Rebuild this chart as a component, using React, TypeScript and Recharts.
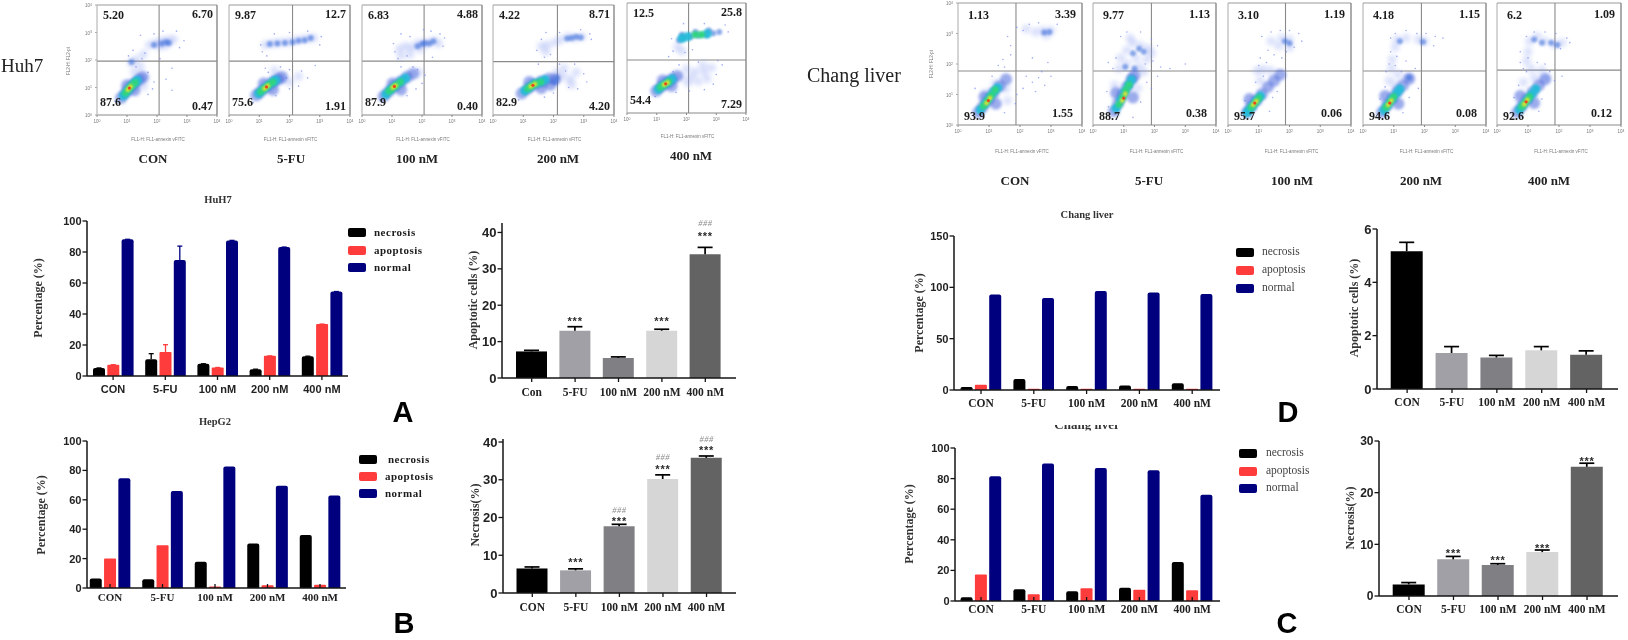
import React from 'react';
import { ComposedChart, Bar, Line, Cell, ErrorBar, XAxis, YAxis, ScatterChart, Scatter, ReferenceLine } from 'recharts';

type Pt = [number, number];
interface Cloud { sparse: Pt[]; soft: Pt[]; mid: Pt[]; blue: Pt[]; cyan: Pt[]; green: Pt[]; yellow: Pt[]; red: Pt[] }

// bar chart values
const doses = ['CON', '5-FU', '100 nM', '200 nM', '400 nM'];
const dosesCon = ['Con', '5-FU', '100 nM', '200 nM', '400 nM'];

const huhNecrosis = [5.2, 10.8, 7.9, 4.4, 12.8];
const huhApoptosis = [7.3, 15.5, 5.5, 13, 33.5];
const huhNormal = [88.2, 74.8, 87.5, 83.2, 54.5];
const huhNecrosisErr = [0, 3.6, 0, 0, 0];
const huhApoptosisErr = [0, 4.7, 0, 0, 0];
const huhNormalErr = [0, 9, 0, 0, 0];

const hepNecrosis = [6.5, 6, 17.8, 30.3, 36];
const hepApoptosis = [20, 29, 1, 1.8, 2.2];
const hepNormal = [74.7, 66, 82.6, 69.5, 63];

const changDNecrosis = [3, 10.7, 3.9, 4.5, 6.5];
const changDApoptosis = [5.2, 1.1, 1.2, 1.15, 1.3];
const changDNormal = [93, 89.6, 96.4, 95, 93.5];

const changCNecrosis = [2.4, 7.6, 6.3, 8.7, 25.5];
const changCApoptosis = [17.4, 4.4, 8.3, 7.4, 7];
const changCNormal = [81.5, 89.8, 87, 85.4, 69.5];

const apoHuh = [7.3, 13, 5.5, 13, 34];
const apoHuhErr = [0.3, 1.1, 0.3, 0.4, 1.9];
const apoHuhStars = [null, 16.2, null, 16.2, 39.7];
const apoHuhHash = [null, null, null, null, 42.6];

const necHep = [6.5, 6, 17.7, 30.2, 35.8];
const necHepErr = [0.4, 0.4, 0.5, 1.1, 0.5];
const necHepStars = [null, 8.8, 19.6, 33.4, 38.4];
const necHepHash = [null, null, 22, 36, 40.8];

const apoChang = [5.17, 1.35, 1.18, 1.45, 1.28];
const apoChangErr = [0.33, 0.24, 0.08, 0.14, 0.15];

const necChang = [2.25, 7.1, 6, 8.5, 25];
const necChangErr = [0.35, 0.56, 0.25, 0.4, 0.7];
const necChangStars = [null, 8.7, 7.3, 9.66, 26.6];

const greys = ['#000000', '#a0a0a6', '#808084', '#d6d6d6', '#636363'];

// quadrant percentages, [upper left, upper right, lower left, lower right]
const huhQuads = [
  ['5.20', '6.70', '87.6', '0.47'],
  ['9.87', '12.7', '75.6', '1.91'],
  ['6.83', '4.88', '87.9', '0.40'],
  ['4.22', '8.71', '82.9', '4.20'],
  ['12.5', '25.8', '54.4', '7.29'],
];
const changQuads = [
  ['1.13', '3.39', '93.9', '1.55'],
  ['9.77', '1.13', '88.7', '0.38'],
  ['3.10', '1.19', '95.7', '0.06'],
  ['4.18', '1.15', '94.6', '0.08'],
  ['6.2', '1.09', '92.6', '0.12'],
];
const flowNames = ['CON', '5-FU', '100 nM', '200 nM', '400 nM'];

// events, in log10 decades
const huhCon: Cloud = {
  sparse: [[1.45, 2.9], [1.2, 2.35], [1.05, 2.15], [1.5, 2.05], [1.3, 1.75], [1.7, 1.55], [1.9, 1.2], [2.3, 1.3], [2.5, .9], [1.85, .95], [2.75, 2.45], [2.9, 2.7], [2.65, 3.05], [2.2, 3.05], [1.9, 2.95], [1.6, 2.25], [2.5, 1.7], [.6, .5], [1.7, .75], [2.1, 2.05]],
  soft: [[1.75, 2.55], [1.95, 2.6], [2.1, 2.65], [2.25, 2.7], [2.4, 2.7], [2.55, 2.75], [2.1, 2.5], [2.3, 2.55], [1.55, 2.2], [1.3, 2.02], [1.15, 1.9], [1.25, 1.55], [1.45, 1.75], [1.6, 1.35], [1.55, 1.05]],
  mid: [[2.15, 2.6], [2.3, 2.65], [2.4, 2.62], [1.9, 2.55], [1.15, 1.93]],
  blue: [[.8, .62], [.95, .8], [1.1, .98], [1.25, 1.15], [1.4, 1.28], [1.52, 1.38], [1, 1.08], [1.25, .9]],
  cyan: [[.88, .7], [1, .85], [1.12, 1.02], [1.25, 1.16], [1.35, 1.26]],
  green: [[.95, .8], [1.06, .95], [1.18, 1.08], [1.27, 1.18]],
  yellow: [[1.03, .92], [1.12, 1.03]],
  red: [[1.08, .98]],
};
const huh5fu: Cloud = {
  sparse: [[1.1, 2.3], [1.25, 2.15], [1.5, 2.95], [2, 3], [2.6, 3.05], [3, 2.55], [3.05, 2.85], [1.2, 1.7], [1.7, 1.75], [2, 1.65], [2.4, 1.6], [2.6, 1.35], [2.3, 1.05], [2, .95], [1.9, 1.35], [1.55, .7], [1.3, 1.55], [.8, .45], [2.85, 1.8], [1.05, 2.55]],
  soft: [[1.2, 2.55], [1.4, 2.6], [1.6, 2.62], [1.8, 2.65], [2, 2.65], [2.2, 2.72], [2.4, 2.75], [2.6, 2.78], [2.8, 2.8], [1.5, 1.3], [1.75, 1.3], [2, 1.2], [2.3, 1.4], [1.5, 1.62]],
  mid: [[1.35, 2.58], [1.6, 2.6], [1.85, 2.62], [2.1, 2.65], [2.3, 2.7], [2.5, 2.72], [2.7, 2.8]],
  blue: [[.9, .72], [1.05, .85], [1.25, 1.02], [1.45, 1.18], [1.62, 1.3], [1.75, 1.38], [1.15, 1.15], [1.45, .92]],
  cyan: [[.98, .78], [1.12, .92], [1.28, 1.06], [1.45, 1.2], [1.55, 1.27]],
  green: [[1.05, .85], [1.18, .98], [1.32, 1.1], [1.45, 1.2]],
  yellow: [[1.18, .96], [1.28, 1.06]],
  red: [[1.24, 1.02]],
};
const huh100: Cloud = {
  sparse: [[1.05, 2.6], [1.1, 2.3], [1.3, 2.95], [1.6, 2.85], [1.5, 2.15], [2.3, 3.05], [2.7, 2.5], [2.75, 2.8], [2.6, 2.95], [1.3, 1.75], [1.7, 1.75], [1.85, 1.65], [2.1, 1.45], [2, 1.15], [1.8, .95], [.6, .55], [1.5, .7], [2.35, 2.1], [1.2, 2.05], [2.05, 3.1]],
  soft: [[1.25, 2.4], [1.45, 2.5], [1.65, 2.45], [1.85, 2.6], [2.05, 2.6], [2.2, 2.62], [2.4, 2.7], [2.55, 2.6], [1.3, 2.15], [1.6, 2.2], [1.95, 2.4], [1.9, 1.55]],
  mid: [[2, 2.58], [2.1, 2.62], [2.25, 2.6], [2.38, 2.68], [1.85, 2.5]],
  blue: [[.72, .68], [.9, .86], [1.1, 1.05], [1.3, 1.22], [1.5, 1.38], [1.7, 1.5], [1.02, 1.15], [1.3, .92]],
  cyan: [[.8, .75], [.95, .92], [1.12, 1.06], [1.3, 1.22], [1.45, 1.34]],
  green: [[.9, .87], [1.02, .98], [1.14, 1.08], [1.28, 1.2]],
  yellow: [[1.03, 1], [1.12, 1.07]],
  red: [[1.08, 1.04]],
};
const huh200: Cloud = {
  sparse: [[1.45, 2.35], [1.6, 2.75], [1.75, 3], [2.2, 3], [2.9, 3.1], [3.25, 2.75], [3.2, 2.95], [1.5, 1.85], [2.2, 1.85], [2.7, 1.85], [3, 1.5], [3.1, 1.2], [2.5, 1], [2.8, .95], [2, .8], [1.7, .65], [.85, .55], [2.4, 1.6], [1.9, 2.2], [1.7, 2.1]],
  soft: [[1.6, 2.5], [1.8, 2.55], [2.05, 2.65], [2.25, 2.75], [2.5, 2.85], [2.7, 2.8], [2.95, 2.85], [1.75, 2.3], [2.1, 1.55], [2.3, 1.4], [2.55, 1.3], [2.75, 1.55], [2.6, 1.1], [2.35, 1.7]],
  mid: [[2.45, 2.78], [2.6, 2.8], [2.75, 2.85], [2.9, 2.82], [2.1, 1.35], [2.05, 1.2]],
  blue: [[.95, .78], [1.15, .95], [1.35, 1.1], [1.6, 1.22], [1.85, 1.32], [2.05, 1.3], [1.2, 1.2], [1.6, .98], [1.9, 1.1]],
  cyan: [[1.05, .88], [1.2, 1], [1.35, 1.12], [1.55, 1.2], [1.72, 1.28]],
  green: [[1.15, .96], [1.28, 1.06], [1.42, 1.15], [1.58, 1.2]],
  yellow: [[1.25, 1.04], [1.38, 1.12]],
  red: [[1.32, 1.08]],
};
const huh400: Cloud = {
  sparse: [[1.55, 2.25], [1.4, 2.05], [1.5, 2.7], [1.9, 3.25], [2.6, 3.25], [3.3, 3.2], [3.4, 2.95], [1.75, 1.75], [2.4, 1.85], [3.05, 1.9], [3, 1.4], [2.9, 1.05], [2.1, .8], [2.6, .85], [1.65, .75], [.95, .6], [3.2, 1.75], [1.95, 2.2], [2.2, 2.3], [1.55, 1.5]],
  soft: [[2, 1.6], [2.3, 1.5], [2.6, 1.5], [2.85, 1.65], [2.7, 1.25], [2.4, 1.15], [2.05, 1.1], [1.8, 1.3], [1.7, 2.4], [1.85, 2.25], [2.15, 1.3], [2.55, 1.75]],
  mid: [[1.75, 2.65], [1.9, 2.72], [2.15, 2.78], [2.4, 2.82], [2.65, 2.85], [2.9, 2.9], [3.1, 2.95], [1.85, 2.85], [2.3, 2.95], [2.75, 3]],
  blue: [[.98, .8], [1.15, .95], [1.32, 1.08], [1.5, 1.22], [1.68, 1.35], [1.5, .98], [1.2, 1.18]],
  cyan: [[1.05, .86], [1.2, 1], [1.38, 1.12], [1.52, 1.24], [1.85, 2.72], [2.05, 2.78], [2.7, 2.88]],
  green: [[1.12, .94], [1.25, 1.03], [1.4, 1.14], [2.3, 2.85], [2.5, 2.85]],
  yellow: [[1.25, 1.03], [1.36, 1.1]],
  red: [[1.3, 1.06]],
};
const changCon: Cloud = {
  sparse: [[1.6, 2.9], [1.7, 2.3], [1.45, 2.15], [1.5, 1.9], [1.7, 2.6], [1.9, 3.2], [2.1, 3.1], [2.3, 3.3], [2.6, 3.35], [3.2, 3.3], [2.2, 1.6], [2.4, 1.4], [2.6, 1.55], [2.8, 1.3], [2.1, 1.2], [3, 1.6], [2.5, 1.1], [1.9, 1], [2.7, 1.75], [.55, 1.2], [1.1, 1.6], [1.3, 1.95], [1.85, .7], [1.5, .4], [2.4, 2.2], [2.9, 2.05]],
  soft: [[2.5, 3.05], [2.75, 3.1], [3, 3.1], [2.2, 3.15], [2.85, 2.95], [1.55, 1.2], [.9, 1.05], [1.2, 1.35], [1.6, .8]],
  mid: [[2.78, 3.03], [2.95, 3.05]],
  blue: [[.65, .42], [.8, .6], [.98, .82], [1.15, 1.05], [1.35, 1.28], [1.55, 1.5], [.85, .92], [1.22, .7]],
  cyan: [[.72, .5], [.88, .7], [1.02, .9], [1.15, 1.08], [1.28, 1.22]],
  green: [[.82, .62], [.95, .8], [1.08, .98], [1.2, 1.15]],
  yellow: [[.92, .72], [1.03, .88]],
  red: [[.98, .8]],
};
const chang5fu: Cloud = {
  sparse: [[.9, 2.9], [.75, 2.2], [.65, 1.85], [.5, 2.05], [1.1, 3.05], [1.55, 3.05], [1.9, 2.8], [2.1, 2.6], [1.95, 2.1], [2.2, 1.9], [1.75, 1.4], [1.9, 1.2], [2.1, 1.6], [1.55, .75], [.45, 1.1], [.5, .6], [2.5, 1.85], [3, 2], [1.3, .25], [1.7, 2]],
  soft: [[.9, 2.2], [1.1, 2.45], [1.3, 2.7], [1.55, 2.6], [1.8, 2.5], [1.75, 2.15], [1.4, 2.2], [1.1, 2], [1.5, 1.9], [.85, 1.85], [1.2, 2.85], [1.9, 2.35], [1.65, 1.75], [1.45, 1.2], [.7, 1.3]],
  mid: [[1.5, 2.5], [1.3, 2.35], [1.65, 2.4], [1.05, 1.9], [1.35, 1.85]],
  blue: [[.68, .45], [.82, .72], [.95, .98], [1.1, 1.25], [1.25, 1.5], [1.35, 1.62], [.75, 1.05], [1.3, .9]],
  cyan: [[.75, .55], [.9, .82], [1.03, 1.08], [1.15, 1.3], [1.25, 1.48]],
  green: [[.85, .68], [.97, .92], [1.07, 1.15], [1.17, 1.32]],
  yellow: [[.95, .8], [1.05, 1.02]],
  red: [[1, .88]],
};
const chang100: Cloud = {
  sparse: [[1.1, 2.9], [1.4, 3.05], [1.7, 3.1], [2, 3.1], [2.3, 3], [2.4, 2.75], [2.15, 2.55], [1.3, 2.45], [1.05, 2.2], [1, 1.95], [1.25, 2.05], [1.5, 2.3], [1.15, 1.6], [.9, 1.4], [1.45, .9], [1.6, 1.1], [1.9, 2.4], [.55, .8], [1.35, .45], [1.75, 2.2]],
  soft: [[1.4, 2.75], [1.75, 2.85], [2, 2.8], [2, 2.55], [1.65, 2.6], [.95, 1.78], [1.15, 1.82], [1.4, 1.78], [1.05, 1.45]],
  mid: [[1.85, 2.75], [2, 2.68]],
  blue: [[.62, .42], [.75, .6], [.92, .8], [1.1, 1.02], [1.3, 1.25], [1.5, 1.45], [1.7, 1.65], [.7, .85]],
  cyan: [[.68, .48], [.8, .62], [.93, .8], [1.06, .95], [.62, .4]],
  green: [[.75, .58], [.88, .72], [1, .88]],
  yellow: [[.82, .66], [.92, .78]],
  red: [[.87, .72]],
};
const chang200: Cloud = {
  sparse: [[.9, 2.85], [1.05, 3], [1.4, 3.1], [1.75, 3], [2.05, 3], [2.35, 2.9], [2.6, 2.85], [2.3, 2.6], [.9, 2.4], [.85, 2], [.75, 1.75], [1.05, 1.95], [1.4, 2.1], [1.25, 1.75], [1.7, 1.85], [.72, 1.25], [.55, .85], [1.5, .9], [1.3, .4], [1.8, 1.2], [1.1, 2.25]],
  soft: [[1.1, 2.8], [1.4, 2.85], [1.8, 2.8], [2, 2.75], [1.05, 2.55], [.95, 2.15], [.92, 1.85], [1.15, 1.65], [1.5, 1.55], [.85, 1.45], [1.05, 1.3]],
  mid: [[1.2, 2.75], [1.95, 2.72], [1.5, 1.55]],
  blue: [[.62, .42], [.78, .65], [.95, .88], [1.12, 1.1], [1.3, 1.3], [1.5, 1.52], [.72, .95], [1.15, .7]],
  cyan: [[.68, .48], [.8, .65], [.95, .85], [1.1, 1.05], [1.2, 1.18]],
  green: [[.75, .58], [.88, .75], [1, .92]],
  yellow: [[.82, .66], [.92, .8]],
  red: [[.87, .72]],
};
const chang400: Cloud = {
  sparse: [[.75, 2.4], [.95, 2.9], [1.2, 3.05], [1.55, 3.05], [1.9, 3], [2.25, 2.85], [2.35, 2.7], [2.05, 2.5], [1, 2.2], [.75, 2.05], [.85, 1.85], [1.3, 2.05], [1.55, 2], [1.7, 1.75], [.7, 1.3], [.55, .9], [1.45, .85], [2.1, 1.6], [1.85, 1.45], [1.35, .45], [.95, 1.75]],
  soft: [[1.05, 2.75], [1.3, 2.9], [1.55, 2.75], [1.85, 2.65], [2.1, 2.7], [1, 2.4], [.95, 2.1], [1.1, 1.85], [1.45, 1.8], [1.2, 1.55], [.85, 1.4], [1.6, 1.55]],
  mid: [[1.2, 2.8], [1.45, 2.7], [1.75, 2.7], [1.95, 2.62]],
  blue: [[.65, .42], [.8, .62], [.97, .85], [1.15, 1.08], [1.35, 1.3], [1.55, 1.5], [.75, .95], [1.2, .72]],
  cyan: [[.72, .5], [.85, .66], [1, .85], [1.13, 1.02], [1.25, 1.18]],
  green: [[.8, .6], [.92, .75], [1.05, .92]],
  yellow: [[.88, .68], [.98, .82]],
  red: [[.94, .76]],
};

const huhClouds = [huhCon, huh5fu, huh100, huh200, huh400];
const changClouds = [changCon, chang5fu, chang100, chang200, chang400];

const huhVLines = [2.07, 2.1, 2.07, 2.13, 2.07];
const huhHLines = [1.96, 1.96, 1.96, 1.94, 1.93];
const changVLines = [1.87, 1.9, 1.87, 1.9, 1.87];
const changHLines = [1.77, 1.77, 1.77, 1.77, 1.8];

const SANS = '"Liberation Sans", Arial, sans-serif';
const SERIF = '"Liberation Serif", "Times New Roman", serif';
const INK = '#1c1c1c';

const LEVELS: { key: keyof Cloud; r: number; fill: string; op: number; blur: number }[] = [
  { key: 'soft', r: 4.5, fill: '#8ba0f2', op: 0.3, blur: 2 },
  { key: 'sparse', r: 0.8, fill: '#7f8ff0', op: 0.75, blur: 0 },
  { key: 'blue', r: 6, fill: '#4a68dc', op: 0.55, blur: 1.5 },
  { key: 'mid', r: 3, fill: '#3f72dc', op: 0.6, blur: 1.2 },
  { key: 'cyan', r: 4.6, fill: '#25bcd8', op: 0.95, blur: 1.2 },
  { key: 'green', r: 3.6, fill: '#2fd480', op: 1, blur: 1 },
  { key: 'yellow', r: 2.4, fill: '#dfe22e', op: 1, blur: 0.8 },
  { key: 'red', r: 1.6, fill: '#e84a20', op: 1, blur: 0.6 },
];

const Txt = ({ x, y, children, style, anchor = 'start', rotate = false }: any) => {
  const tx = anchor === 'middle' ? '-50%' : anchor === 'end' ? '-100%' : '0';
  return (
    <div style={{
      position: 'absolute', left: x, top: y, whiteSpace: 'nowrap', lineHeight: 1, color: INK,
      transform: rotate ? 'translate(-50%,-50%) rotate(-90deg)' : `translate(${tx},-50%)`, ...style,
    }}>{children}</div>
  );
};

const LogTick = ({ x, y, payload, vertical }: any) => (
  <text x={vertical ? x - 1 : x} y={vertical ? y + 2 : y + 4} fontSize={4.5} fill="#777" fontFamily={SANS} textAnchor={vertical ? 'end' : 'middle'}>
    10<tspan fontSize={3.5} dy={-1.5}>{payload.value}</tspan>
  </text>
);

const FlowPlot = ({ box, cloud, vline, hline, first }: any) => {
  const [L, T, R, B] = box;
  return (
    <div style={{ position: 'absolute', left: L - 18, top: T - 4 }}>
      <ScatterChart width={R - L + 24} height={B - T + 18} margin={{ left: 17, top: 4, right: 6, bottom: 13 }}>
        <XAxis type="number" dataKey="x" domain={[0, 4]} ticks={[0, 1, 2, 3, 4]} height={1} tick={<LogTick />} tickSize={2} stroke="#888" interval={0} />
        <YAxis type="number" dataKey="y" domain={[0, 4]} ticks={[0, 1, 2, 3, 4]} width={1} tick={first ? <LogTick vertical /> : false} tickSize={first ? 2 : 0} stroke="#aaa" interval={0} />
        <ReferenceLine y={4} stroke="#999" strokeWidth={1.2} />
        <ReferenceLine x={4} stroke="#888" strokeWidth={1.4} />
        <ReferenceLine x={vline} stroke="#8a8a8a" strokeWidth={1.1} />
        <ReferenceLine y={hline} stroke="#8a8a8a" strokeWidth={1.1} />
        {LEVELS.map((lv) => (
          <Scatter key={lv.key} data={cloud[lv.key].map(([x, y]: Pt) => ({ x, y }))} isAnimationActive={false}
            shape={(p: any) => <circle cx={p.cx} cy={p.cy} r={lv.r} fill={lv.fill} fillOpacity={lv.op} style={lv.blur ? { filter: `blur(${lv.blur}px)` } : undefined} />} />
        ))}
      </ScatterChart>
    </div>
  );
};

const Quads = ({ box, vals, off }: any) => {
  const [L, T, R, B] = box;
  const st = { fontFamily: SERIF, fontWeight: 700, fontSize: 12 };
  return (
    <>
      <Txt x={L + off[0]} y={T + off[1]} style={st}>{vals[0]}</Txt>
      <Txt x={R - off[2]} y={T + off[3]} style={st} anchor="end">{vals[1]}</Txt>
      <Txt x={L + off[4]} y={B - off[5]} style={st}>{vals[2]}</Txt>
      <Txt x={R - off[6]} y={B - off[7]} style={st} anchor="end">{vals[3]}</Txt>
    </>
  );
};

const Legend = ({ x, textX, ys, bold, textXs }: any) => {
  const items = [['necrosis', '#000000'], ['apoptosis', '#ff3c3c'], ['normal', '#00007f']];
  return (
    <>
      {items.map(([name, col], i) => (
        <React.Fragment key={name}>
          <div style={{ position: 'absolute', left: x, top: ys[i] - 4.5, width: 18, height: 9, background: col, borderRadius: 2 }} />
          <Txt x={textXs ? textXs[i] : textX} y={ys[i]} style={{ fontFamily: SERIF, fontSize: bold ? 11 : 11.5, fontWeight: bold ? 700 : 400, letterSpacing: bold ? 0.5 : 0, color: bold ? INK : '#444' }}>{name}</Txt>
        </React.Fragment>
      ))}
    </>
  );
};

const Marks = (text: string, style: any, dy: number) => (p: any) => {
  if (p.cy == null || p.value == null) return <g key={p.index} />;
  return <text key={p.index} x={p.cx} y={p.cy + dy} textAnchor="middle" {...style}>{text}</text>;
};

const Plot = ({ cfg, data, children }: any) => {
  const { left, right, top, bottom, start, end, domain, ticks, tickFont, catFont, inward, catDy } = cfg;
  const mL = 40, mT = 34, mR = 4, mB = 28;
  return (
    <div style={{ position: 'absolute', left: left - mL, top: top - mT }}>
      <ComposedChart width={right - left + mL + mR} height={bottom - top + mT + mB} data={data}
        margin={{ left: mL - 1, top: mT, right: mR, bottom: mB - 1 }} barSize={cfg.barSize} barGap={cfg.barGap || 0}>
        <XAxis dataKey="name" height={1} interval={0} tickSize={0} tickMargin={0} padding={{ left: start - left, right: right - end }}
          axisLine={{ stroke: '#141414', strokeWidth: 1.5 }} tickLine={false}
          tick={(p: any) => (
            <g>
              <line x1={p.x} x2={p.x} y1={p.y} y2={p.y + (inward ? -4 : 4)} stroke="#141414" strokeWidth={1.3} />
              <text x={p.x} y={p.y + catDy} textAnchor="middle" fill="#222" {...catFont}>{p.payload.value}</text>
            </g>
          )} />
        <YAxis type="number" domain={domain} ticks={ticks} width={1} interval={0} tickSize={4.5} tickMargin={1}
          axisLine={{ stroke: '#141414', strokeWidth: 1.5 }} tickLine={{ stroke: '#141414', strokeWidth: 1.3 }}
          tick={{ fill: '#222', ...tickFont }} />
        {children}
      </ComposedChart>
    </div>
  );
};

const grouped = (n: number[], a: number[], m: number[], ne?: number[], ae?: number[], me?: number[]) =>
  doses.map((name, i) => ({ name, necrosis: n[i], apoptosis: a[i], normal: m[i], ne: [0, ne ? ne[i] : 0], ae: [0, ae ? ae[i] : 0], me: [0, me ? me[i] : 0] }));

const single = (names: string[], v: number[], e: number[], stars?: (number | null)[], hash?: (number | null)[]) =>
  names.map((name, i) => ({ name, v: v[i], e: [0, e[i]], stars: stars ? stars[i] : null, hash: hash ? hash[i] : null }));

const GroupBars = ({ cfg, data, errors }: any) => (
  <Plot cfg={{ barSize: 12, barGap: 2.3, ...cfg }} data={data}>
    <Bar dataKey="necrosis" fill="#000000" radius={[2, 2, 0, 0]} isAnimationActive={false}>
      {errors && <ErrorBar dataKey="ne" direction="y" width={2.5} stroke="#000" strokeWidth={1.3} />}
    </Bar>
    <Bar dataKey="apoptosis" fill="#ff3c3c" radius={[1, 1, 0, 0]} isAnimationActive={false}>
      {errors && <ErrorBar dataKey="ae" direction="y" width={2.5} stroke="#ff3c3c" strokeWidth={1.3} />}
    </Bar>
    <Bar dataKey="normal" fill="#00007f" radius={[2, 2, 0, 0]} isAnimationActive={false}>
      {errors && <ErrorBar dataKey="me" direction="y" width={2.5} stroke="#00007f" strokeWidth={1.3} />}
    </Bar>
  </Plot>
);

const starStyle = { fontSize: 11, fontWeight: 700, fontFamily: SANS, fill: '#2a2a2a', letterSpacing: 0.8 };
const hashStyle = { fontSize: 8.5, fontStyle: 'italic', fontFamily: SERIF, fill: '#8a8a8a', letterSpacing: 0.5 };

const SingleBars = ({ cfg, data }: any) => (
  <Plot cfg={cfg} data={data}>
    <Bar dataKey="v" isAnimationActive={false}>
      {data.map((_: any, i: number) => <Cell key={i} fill={greys[i]} />)}
      <ErrorBar dataKey="e" direction="y" width={7.5} stroke="#000" strokeWidth={1.7} />
    </Bar>
    <Line dataKey="stars" stroke="none" isAnimationActive={false} connectNulls={false} dot={Marks('***', starStyle, 6)} activeDot={false} legendType="none" />
    <Line dataKey="hash" stroke="none" isAnimationActive={false} connectNulls={false} dot={Marks('###', hashStyle, 3)} activeDot={false} legendType="none" />
  </Plot>
);

const boldSans = { fontFamily: SANS, fontWeight: 700, fontSize: 11 };
const catSerif = { fontFamily: SERIF, fontWeight: 700, fontSize: 11.5 };
const axisTitle = { fontFamily: SERIF, fontWeight: 700, fontSize: 12, color: '#333' };
const subTitle = { fontFamily: SERIF, fontWeight: 700, fontSize: 10.5, color: '#333' };
const panelLetter = { fontFamily: SANS, fontWeight: 700, fontSize: 29, color: '#000' };
const flowName = { fontFamily: SERIF, fontWeight: 700, fontSize: 13, color: '#222' };
const tinyLabel = { fontFamily: SANS, fontSize: 4.5, color: '#777' };

const huhBoxes = [[97, 5, 217, 115], [229, 5, 350, 115], [362, 5, 482, 115], [493, 5, 614, 115], [627, 3, 746, 113]];
const changBoxes = [[958, 3, 1082, 125], [1093, 3, 1216, 125], [1228, 3, 1351, 125], [1363, 3, 1486, 125], [1497, 3, 1621, 125]];
const huhNameX = [153, 291, 417, 558, 691];
const changNameX = [1015, 1149, 1292, 1421, 1549];
const huhOff = [6, 10, 4, 9, 3, 13, 4, 9];
const changOff = [10, 12, 6, 11, 6, 9, 9, 12];

export default function App() {
  return (
    <div style={{ position: 'absolute', left: 0, top: 0, width: 1628, height: 640, background: '#fff', overflow: 'hidden', filter: 'blur(0.4px)' }}>
      {/* GraphPad style error bars have no lower cap */}
      <style>{'.recharts-errorBar line:nth-of-type(3){display:none}'}</style>
      <Txt x={1} y={65} style={{ fontFamily: SERIF, fontSize: 19, color: '#222' }}>Huh7</Txt>
      <Txt x={807} y={75} style={{ fontFamily: SERIF, fontSize: 20, color: '#222' }}>Chang liver</Txt>

      {huhBoxes.map((box, i) => (
        <React.Fragment key={i}>
          <FlowPlot box={box} cloud={huhClouds[i]} vline={huhVLines[i]} hline={huhHLines[i]} first={i === 0} />
          <Quads box={box} vals={huhQuads[i]} off={huhOff} />
          <Txt x={(box[0] + box[2]) / 2 + 1} y={i === 4 ? 137 : 140} style={tinyLabel} anchor="middle">FL1-H: FL1-annexin vFITC</Txt>
          <Txt x={huhNameX[i]} y={i === 4 ? 155 : 158} style={flowName} anchor="middle">{flowNames[i]}</Txt>
        </React.Fragment>
      ))}
      {changBoxes.map((box, i) => (
        <React.Fragment key={i}>
          <FlowPlot box={box} cloud={changClouds[i]} vline={changVLines[i]} hline={changHLines[i]} first={i === 0} />
          <Quads box={box} vals={changQuads[i]} off={changOff} />
          <Txt x={(box[0] + box[2]) / 2 + 2} y={152} style={tinyLabel} anchor="middle">FL1-H: FL1-annexin vFITC</Txt>
          <Txt x={changNameX[i]} y={180} style={flowName} anchor="middle">{flowNames[i]}</Txt>
        </React.Fragment>
      ))}
      <Txt x={69} y={61} rotate style={tinyLabel}>FL2-H: FL2-pi</Txt>
      <Txt x={932} y={64} rotate style={tinyLabel}>FL2-H: FL2-pi</Txt>

      {/* HuH7 */}
      <Txt x={218} y={200} style={subTitle} anchor="middle">HuH7</Txt>
      <Txt x={38} y={298} rotate style={axisTitle}>Percentage (%)</Txt>
      <GroupBars errors data={grouped(huhNecrosis, huhApoptosis, huhNormal, huhNecrosisErr, huhApoptosisErr, huhNormalErr)}
        cfg={{ left: 87, right: 348, top: 221, bottom: 376, start: 87, end: 348, domain: [0, 100], ticks: [0, 20, 40, 60, 80, 100], tickFont: boldSans, catFont: boldSans, catDy: 17 }} />
      <Legend x={348} textX={374} ys={[232, 250, 267]} bold />

      <Txt x={473} y={300} rotate style={axisTitle}>Apoptotic cells (%)</Txt>
      <SingleBars data={single(dosesCon, apoHuh, apoHuhErr, apoHuhStars, apoHuhHash)}
        cfg={{ left: 502, right: 736, top: 223, bottom: 378, start: 510, end: 727, domain: [0, 40], ticks: [0, 10, 20, 30, 40], tickFont: { ...boldSans, fontSize: 13 }, catFont: catSerif, catDy: 18, barSize: 31 }} />
      <Txt x={403} y={412} style={panelLetter} anchor="middle">A</Txt>

      {/* HepG2 */}
      <Txt x={215} y={422} style={subTitle} anchor="middle">HepG2</Txt>
      <Txt x={41} y={515} rotate style={axisTitle}>Percentage (%)</Txt>
      <GroupBars data={grouped(hepNecrosis, hepApoptosis, hepNormal)}
        cfg={{ left: 87, right: 346, top: 441, bottom: 588, start: 83.75, end: 346.25, domain: [0, 100], ticks: [0, 20, 40, 60, 80, 100], tickFont: boldSans, catFont: { ...catSerif, fontSize: 11 }, catDy: 13, inward: true }} />
      <Legend x={359} textXs={[388, 385, 385]} ys={[459, 476, 493]} bold />

      <Txt x={475} y={515} rotate style={axisTitle}>Necrosis(%)</Txt>
      <SingleBars data={single(doses, necHep, necHepErr, necHepStars, necHepHash)}
        cfg={{ left: 503, right: 736, top: 439, bottom: 593, start: 510.5, end: 728.3, domain: [0, 40], ticks: [0, 10, 20, 30, 40], tickFont: { ...boldSans, fontSize: 13 }, catFont: catSerif, catDy: 18, barSize: 31 }} />
      <Txt x={404} y={623} style={panelLetter} anchor="middle">B</Txt>

      {/* Chang liver, upper row */}
      <Txt x={1087} y={215} style={subTitle} anchor="middle">Chang liver</Txt>
      <Txt x={919} y={313} rotate style={axisTitle}>Percentage (%)</Txt>
      <GroupBars data={grouped(changDNecrosis, changDApoptosis, changDNormal)}
        cfg={{ left: 954, right: 1220, top: 236, bottom: 390, start: 954.6, end: 1218.6, domain: [0, 150], ticks: [0, 50, 100, 150], tickFont: boldSans, catFont: catSerif, catDy: 17 }} />
      <Legend x={1236} textX={1262} ys={[252, 270, 288]} />

      <Txt x={1354} y={308} rotate style={axisTitle}>Apoptotic cells (%)</Txt>
      <SingleBars data={single(doses, apoChang, apoChangErr)}
        cfg={{ left: 1377, right: 1618, top: 229, bottom: 389, start: 1384.7, end: 1609, domain: [0, 6], ticks: [0, 2, 4, 6], tickFont: { ...boldSans, fontSize: 13 }, catFont: catSerif, catDy: 17, barSize: 32 }} />
      <Txt x={1288} y={412} style={panelLetter} anchor="middle">D</Txt>

      {/* Chang liver, lower row: the source crops this title to its bottom edge */}
      <Txt x={1087} y={424} style={{ ...subTitle, fontSize: 13, clipPath: 'inset(58% 0 0 0)' }} anchor="middle">Chang liver</Txt>
      <Txt x={909} y={524} rotate style={axisTitle}>Percentage (%)</Txt>
      <GroupBars data={grouped(changCNecrosis, changCApoptosis, changCNormal)}
        cfg={{ left: 955, right: 1220, top: 448, bottom: 601, start: 954.6, end: 1218.6, domain: [0, 100], ticks: [0, 20, 40, 60, 80, 100], tickFont: boldSans, catFont: catSerif, catDy: 12, inward: true }} />
      <Legend x={1239} textX={1266} ys={[453, 471, 488]} />

      <Txt x={1350} y={518} rotate style={axisTitle}>Necrosis(%)</Txt>
      <SingleBars data={single(doses, necChang, necChangErr, necChangStars)}
        cfg={{ left: 1379, right: 1618, top: 441, bottom: 596, start: 1386.7, end: 1609.3, domain: [0, 30], ticks: [0, 10, 20, 30], tickFont: { ...boldSans, fontSize: 12 }, catFont: catSerif, catDy: 17, barSize: 32 }} />
      <Txt x={1287} y={623} style={panelLetter} anchor="middle">C</Txt>
    </div>
  );
}
